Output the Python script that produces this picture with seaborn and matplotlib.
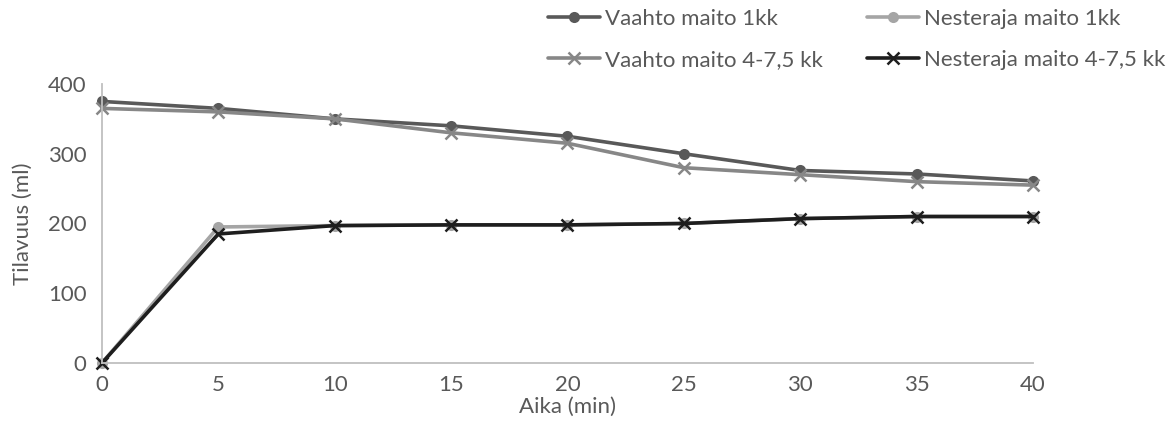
import matplotlib
matplotlib.use("Agg")
import matplotlib.pyplot as plt
import seaborn as sns
import pandas as pd

time_min = [0, 5, 10, 15, 20, 25, 30, 35, 40]
vaahto_1kk = [375, 365, 350, 340, 325, 300, 276, 271, 261]
nesteraja_1kk = [0, 195, 197, 198, 198, 200, 207, 210, 210]
vaahto_4kk = [365, 360, 350, 330, 315, 280, 270, 260, 255]
nesteraja_4kk = [0, 185, 197, 198, 198, 200, 207, 210, 210]

series_names = ["Vaahto maito 1kk", "Nesteraja maito 1kk",
                "Vaahto maito 4-7,5 kk", "Nesteraja maito 4-7,5 kk"]
series_values = [vaahto_1kk, nesteraja_1kk, vaahto_4kk, nesteraja_4kk]
colors = ["#595959", "#A5A5A5", "#878787", "#1E1E1E"]
markers = ["o", "o", "x", "x"]

sns.set_theme(style="white")
plt.rcParams["font.family"] = ["Lato", "DejaVu Sans"]
text_color = "#595959"
axis_color = "#BFBFBF"
fs = 16

df = pd.concat([pd.DataFrame({"Aika": time_min, "Tilavuus": v, "Sarja": n})
                for n, v in zip(series_names, series_values)], ignore_index=True)

fig = plt.figure(figsize=(11.68, 4.34), dpi=100)
ax = fig.add_axes([0.0873, 0.1636, 0.797, 0.6429])

for name, col, mk in zip(series_names, colors, markers):
    sub = df[df["Sarja"] == name]
    sns.lineplot(data=sub, x="Aika", y="Tilavuus", ax=ax, color=col, linewidth=2.6,
                 marker=mk, markersize=8 if mk == "o" else 9,
                 markeredgewidth=0 if mk == "o" else 1.8,
                 markeredgecolor=col, label=name, legend=False)

ax.set_xlim(0, 40)
ax.set_ylim(0, 400)
ax.set_xticks(time_min)
ax.set_yticks([0, 100, 200, 300, 400])
for s in ["top", "right"]:
    ax.spines[s].set_visible(False)
for s in ["left", "bottom"]:
    ax.spines[s].set_color(axis_color)
    ax.spines[s].set_linewidth(1.3)
ax.tick_params(axis="x", direction="out", length=6, width=1.3, color=axis_color,
               labelsize=fs, labelcolor=text_color, pad=3)
ax.tick_params(axis="y", direction="out", length=6, width=1.3, color=axis_color,
               labelsize=fs, labelcolor=text_color, pad=5)
for line in ax.get_lines():
    line.set_clip_on(False)

ax.set_xlabel("Aika (min)", fontsize=fs, color=text_color, labelpad=1)
ax.set_ylabel("Tilavuus (ml)", fontsize=fs, color=text_color, labelpad=11)

handles, labels = ax.get_legend_handles_labels()
order = [0, 2, 1, 3]  # column-first fill -> rows match reference
leg = fig.legend([handles[i] for i in order], [labels[i] for i in order],
                 ncol=2, loc="upper right",
                 bbox_to_anchor=(1.009, 1.01), frameon=False, fontsize=fs,
                 handlelength=2.35, handletextpad=0.2, columnspacing=2.0,
                 labelspacing=0.95, labelcolor=text_color, borderaxespad=0.2)

fig.savefig("out.png", dpi=100, facecolor="white")
